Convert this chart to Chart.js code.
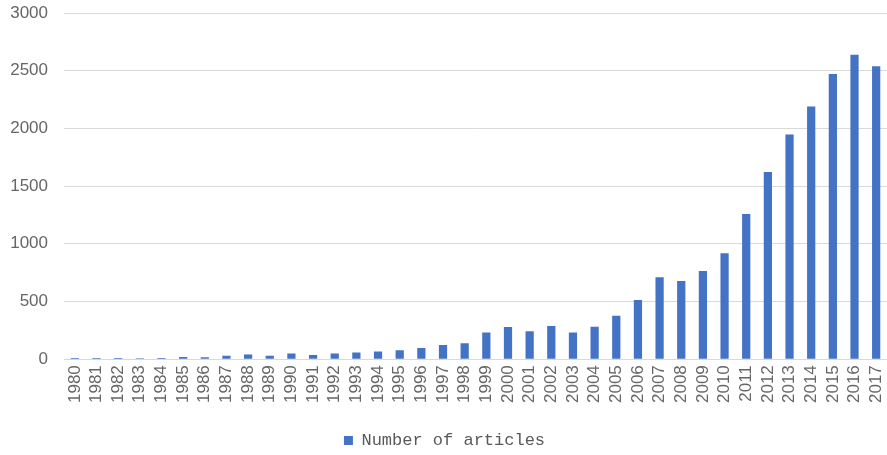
<!DOCTYPE html>
<html>
<head>
<meta charset="utf-8">
<script src="https://cdn.jsdelivr.net/npm/chart.js@4/dist/chart.umd.min.js"></script>
<style>
  html, body { margin: 0; padding: 0; background: #fff; }
  #wrap { width: 887px; height: 455px; position: relative; }
</style>
</head>
<body>
<div id="wrap"><canvas id="grafico"></canvas></div>
<script>
/* dados */
const anos = [
  "1980", "1981", "1982", "1983", "1984", "1985", "1986", "1987", "1988", "1989",
  "1990", "1991", "1992", "1993", "1994", "1995", "1996", "1997", "1998", "1999",
  "2000", "2001", "2002", "2003", "2004", "2005", "2006", "2007", "2008", "2009",
  "2010", "2011", "2012", "2013", "2014", "2015", "2016", "2017"
];
const artigos = [
  10, 10, 11, 9, 11, 19, 17, 29, 40, 29,
  49, 37, 49, 57, 66, 78, 96, 122, 139, 231,
  278, 243, 287, 231, 280, 377, 513, 710, 678, 765,
  919, 1258, 1623, 1948, 2189, 2472, 2638, 2539
];
const serieNome = "Number of articles";
const yTicks = [0, 500, 1000, 1500, 2000, 2500, 3000];

const AZUL = "#4472C4";
const CINZA = "#666666";
const GRADE = "#d9d9d9";

const ctx = document.getElementById("grafico").getContext("2d");

new Chart(ctx, {
  type: "bar",
  data: {
    labels: anos,
    datasets: [{
      label: serieNome,
      data: artigos,
      backgroundColor: AZUL,
      borderWidth: 0,
      barPercentage: 0.38,
      categoryPercentage: 1
    }]
  },
  options: {
    responsive: true,
    maintainAspectRatio: false,
    animation: false,
    layout: { padding: { top: 13, right: -2, bottom: -4, left: 0 } },
    plugins: {
      tooltip: { enabled: false },
      legend: {
        position: "bottom",
        labels: {
          boxWidth: 9,
          boxHeight: 9,
          padding: 23,
          color: "#595959",
          font: { family: "Liberation Mono", size: 17 }
        }
      }
    },
    scales: {
      x: {
        afterFit: s => { s.paddingLeft = 0; s.paddingRight = 0; },
        grid: { display: false, drawTicks: false },
        border: { display: true, color: GRADE },
        ticks: {
          color: CINZA,
          autoSkip: false,
          minRotation: 90,
          maxRotation: 90,
          padding: 6,
          font: { family: "Liberation Sans", size: 17 }
        }
      },
      y: {
        min: 0,
        max: 3000,
        afterFit: s => { s.width = 64; s.paddingTop = 0; s.paddingBottom = 0; },
        afterBuildTicks: s => { s.ticks = yTicks.map(v => ({ value: v })); },
        grid: { color: GRADE, drawTicks: false },
        border: { display: false },
        ticks: {
          color: CINZA,
          padding: 16,
          callback: v => String(v),
          font: { family: "Liberation Sans", size: 17 }
        }
      }
    }
  }
});
</script>
</body>
</html>
